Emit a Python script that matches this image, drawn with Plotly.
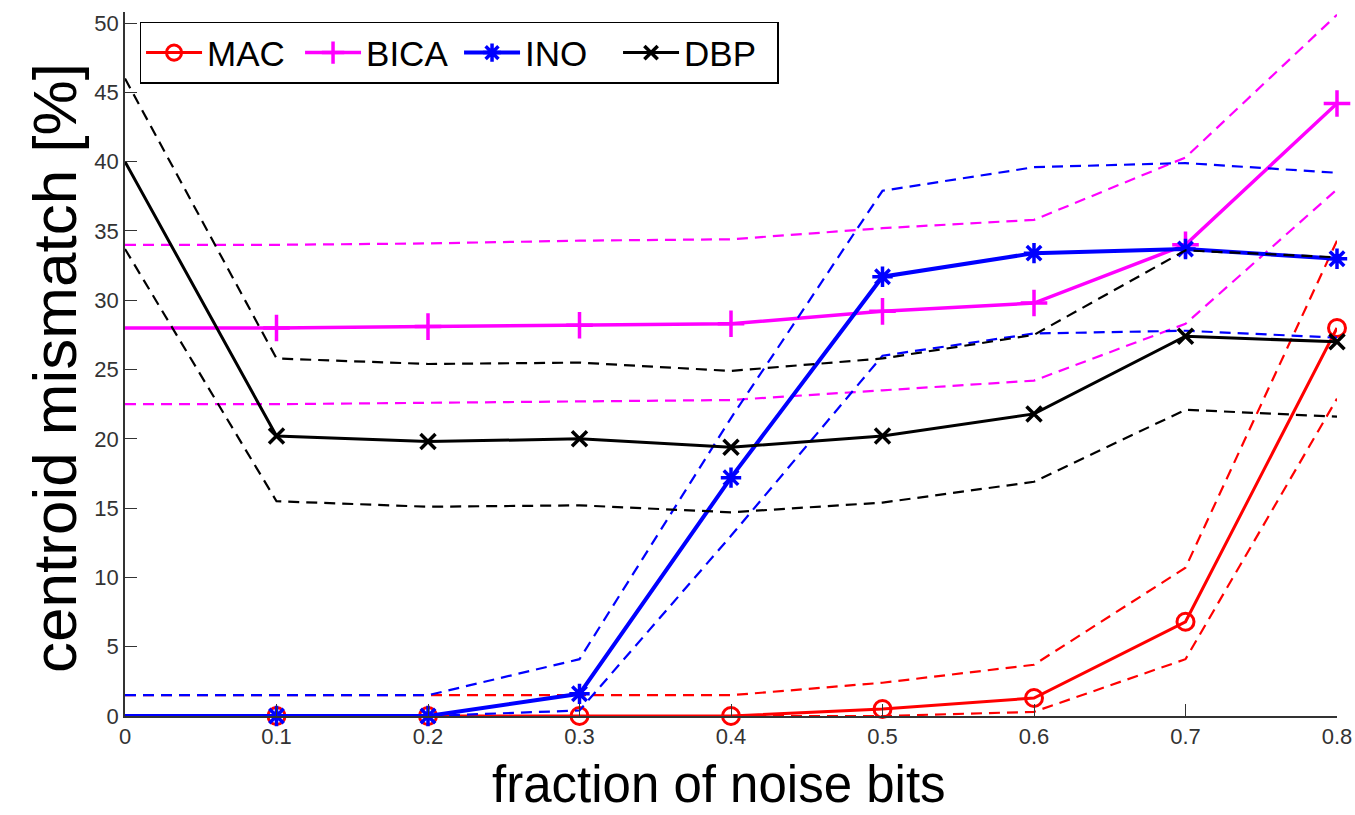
import plotly.graph_objects as go

x_frac = [0.0, 0.1, 0.2, 0.3, 0.4, 0.5, 0.6, 0.7, 0.8]

mac_mean = [0.0, 0.0, 0.0, 0.0, 0.0, 0.5, 1.3, 6.8, 28.0]
mac_upper = [1.5, 1.5, 1.5, 1.5, 1.5, 2.4, 3.7, 10.7, 34.3]
mac_lower = [0.0, 0.0, 0.0, 0.0, 0.0, 0.0, 0.3, 4.1, 22.9]

bica_mean = [28.0, 28.0, 28.1, 28.2, 28.3, 29.2, 29.8, 34.0, 44.2]
bica_upper = [34.0, 34.0, 34.1, 34.3, 34.4, 35.2, 35.8, 40.3, 50.6]
bica_lower = [22.5, 22.5, 22.6, 22.7, 22.8, 23.5, 24.2, 28.3, 38.0]

ino_mean = [0.0, 0.0, 0.0, 1.6, 17.2, 31.7, 33.4, 33.7, 33.0]
ino_upper = [1.5, 1.5, 1.5, 4.1, 21.5, 37.9, 39.6, 39.9, 39.2]
ino_lower = [0.0, 0.0, 0.0, 0.4, 13.0, 26.0, 27.6, 27.8, 27.3]

dbp_mean = [40.0, 20.2, 19.8, 20.0, 19.4, 20.2, 21.8, 27.4, 27.0]
dbp_upper = [46.0, 25.8, 25.4, 25.5, 24.9, 25.8, 27.5, 33.6, 33.1]
dbp_lower = [33.7, 15.5, 15.1, 15.2, 14.7, 15.4, 16.9, 22.1, 21.6]

x_ticks = [0, 0.1, 0.2, 0.3, 0.4, 0.5, 0.6, 0.7, 0.8]
x_ticklabels = ["0", "0.1", "0.2", "0.3", "0.4", "0.5", "0.6", "0.7", "0.8"]
y_ticks = [0, 5, 10, 15, 20, 25, 30, 35, 40, 45, 50]

series = [
    ("MAC", mac_mean, mac_upper, mac_lower, "#ff0000", "circle-open", 17, 3, 3),
    ("BICA", bica_mean, bica_upper, bica_lower, "#ff00ff", "cross-thin-open", 19, 3.5, 3.5),
    ("INO", ino_mean, ino_upper, ino_lower, "#0000ff", "asterisk-open", 17, 4, 3.5),
    ("DBP", dbp_mean, dbp_upper, dbp_lower, "#000000", "x-thin-open", 15, 3, 3.5),
]

fig = go.Figure()
for name, mean, up, lo, color, sym, msize, lw, mlw in series:
    for band in (up, lo):
        fig.add_trace(go.Scatter(
            x=x_frac, y=band, mode="lines", showlegend=False, hoverinfo="skip",
            line=dict(color=color, width=2.2, dash="11px,7px"), cliponaxis=False,
        ))
    sizes = [0] + [msize] * (len(x_frac) - 1)
    fig.add_trace(go.Scatter(
        x=x_frac, y=mean, mode="lines+markers", name=name,
        line=dict(color=color, width=lw),
        marker=dict(symbol=sym, size=sizes, color=color, opacity=1,
                    line=dict(color=color, width=mlw)),
        cliponaxis=False,
    ))

fig.add_annotation(text="fraction of noise bits", xref="paper", yref="paper",
                   x=0.49, y=-0.14, xanchor="center", yanchor="bottom", showarrow=False,
                   font=dict(family="Liberation Sans, Arial, sans-serif", size=51, color="black"))
fig.add_annotation(text="centroid mismatch [%]", xref="paper", yref="paper",
                   x=-0.058, y=0.494, xanchor="center", yanchor="middle", showarrow=False,
                   textangle=-90,
                   font=dict(family="Liberation Sans, Arial, sans-serif", size=62, color="black"))

fig.update_layout(
    width=1355, height=815,
    margin=dict(l=125, r=18, t=12, b=99),
    paper_bgcolor="white", plot_bgcolor="white",
    font=dict(family="Liberation Sans, Arial, sans-serif", color="black"),
    xaxis=dict(range=[0, 0.8], tickvals=x_ticks, ticktext=x_ticklabels, automargin=False,
               showgrid=False, zeroline=False, showline=True, linecolor="#333333", linewidth=1.5,
               ticks="inside", ticklen=12, tickcolor="#333333",
               tickfont=dict(size=22, color="#333333")),
    yaxis=dict(range=[0, 50.8], tickvals=y_ticks, automargin=False,
               showgrid=False, zeroline=False, showline=True, linecolor="#333333", linewidth=1.5,
               ticks="inside", ticklen=12, tickcolor="#333333",
               tickfont=dict(size=22, color="#333333")),
    legend=dict(orientation="h", x=0.012, y=0.986, xanchor="left", yanchor="top",
                bgcolor="white", bordercolor="black", borderwidth=1.5,
                font=dict(size=35, color="black"), itemwidth=56,
                entrywidth=88, entrywidthmode="pixels"),
)

fig.write_html("out.html", config={"displayModeBar": False},
               post_script="document.body.style.margin='0';document.body.style.overflow='hidden';")
